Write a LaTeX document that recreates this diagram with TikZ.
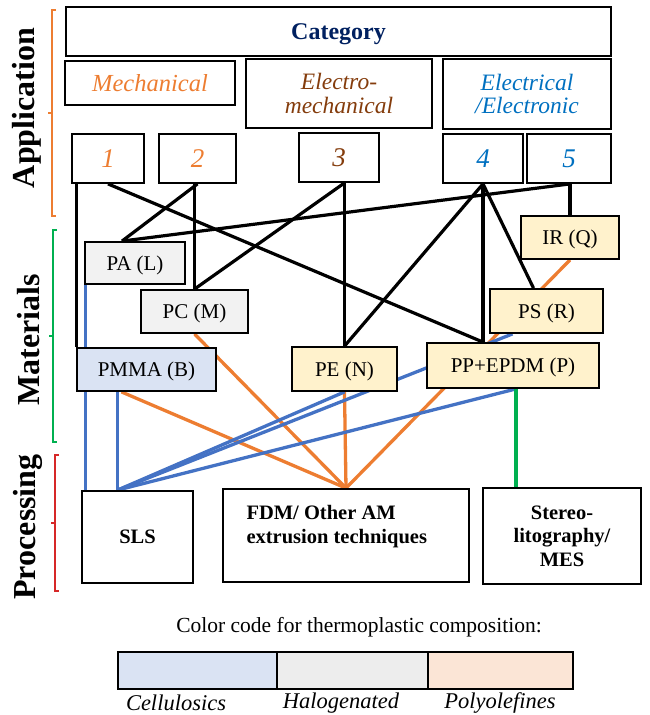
\documentclass[tikz,border=0pt]{standalone}
\usepackage{fontspec}
\setmainfont{Liberation Serif}
\usetikzlibrary{calc}
\pgfdeclarelayer{back}
\pgfsetlayers{back,main}
\definecolor{mechorange}{HTML}{ED7D31}
\definecolor{emechbrown}{HTML}{843C0C}
\definecolor{elecblue}{HTML}{0070C0}
\definecolor{catnavy}{HTML}{002060}
\definecolor{linkblue}{HTML}{4472C4}
\definecolor{linkgreen}{HTML}{00B050}
\definecolor{procred}{HTML}{D62828}
\definecolor{cellfill}{HTML}{DAE3F3}
\definecolor{halofill}{HTML}{F2F2F2}
\definecolor{halolegend}{HTML}{EDEDED}
\definecolor{olefill}{HTML}{FFF2CC}
\definecolor{olelegend}{HTML}{FBE5D6}
\begin{document}
\begin{tikzpicture}[x=1pt,y=-1pt,
  box/.style={draw,line width=1.8pt,inner sep=0pt,align=center,text depth=0pt},
  areatext/.style={font=\fontsize{23.5}{23.5}\selectfont\itshape},
  numtext/.style={font=\fontsize{27}{28}\selectfont\itshape},
  mattext/.style={font=\fontsize{21}{22}\selectfont},
  proctext/.style={font=\fontsize{20.5}{23.5}\selectfont\bfseries},
  sidetext/.style={font=\fontsize{32}{34}\selectfont\bfseries,rotate=90},
  blacklink/.style={line width=3.2pt},
  orangelink/.style={line width=3.3pt,mechorange},
  bluelink/.style={line width=3.3pt,linkblue},
  greenlink/.style={line width=3.3pt,linkgreen}]
\useasboundingbox (0,0) rectangle (650,715);

\node[box,minimum width=545,minimum height=49,font=\fontsize{24}{26}\selectfont\bfseries,text=catnavy] (cat) at (338.5,31.5) {Category};
\node[box,areatext,text=mechorange,minimum width=170,minimum height=44,font=\fontsize{24.5}{25}\selectfont\itshape] (mech) at (150,83) {Mechanical};
\node[box,areatext,text=emechbrown,minimum width=186,minimum height=69] (emech) at (339,93.5) {Electro-\\mechanical};
\node[box,areatext,text=elecblue,minimum width=168,minimum height=70] (elec) at (527,94) {Electrical\\/Electronic};

\node[box,numtext,text=mechorange,minimum width=72,minimum height=49] (n1) at (108,158.5) {1};
\node[box,numtext,text=mechorange,minimum width=77,minimum height=49] (n2) at (197.5,158.5) {2};
\node[box,numtext,text=emechbrown,minimum width=80,minimum height=49] (n3) at (339,157.5) {3};
\node[box,numtext,text=elecblue,minimum width=80,minimum height=49] (n4) at (483,158.5) {4};
\node[box,numtext,text=elecblue,minimum width=84,minimum height=49] (n5) at (569,158.5) {5};

\node[box,mattext,fill=halofill,minimum width=100,minimum height=42] (pa) at (135,263) {PA (L)};
\node[box,mattext,fill=halofill,minimum width=107,minimum height=43] (pc) at (194.5,311.5) {PC (M)};
\node[box,mattext,fill=cellfill,minimum width=139,minimum height=43] (pmma) at (146.5,369.5) {PMMA (B)};
\node[box,mattext,fill=olefill,minimum width=105,minimum height=44] (pe) at (344.5,369) {PE (N)};
\node[box,mattext,fill=olefill,minimum width=172,minimum height=45] (pp) at (513,365.5) {PP+EPDM (P)};
\node[box,mattext,fill=olefill,minimum width=98,minimum height=43] (ir) at (570,237.5) {IR (Q)};
\node[box,mattext,fill=olefill,minimum width=113,minimum height=44] (ps) at (546.5,311) {PS (R)};

\node[box,proctext,minimum width=111,minimum height=92] (sls) at (137.5,537) {SLS};
\node[box,minimum width=246,minimum height=93] (fdm) at (346,535.5) {};
\node[proctext,align=left,anchor=west] (fdmtext) at (243,526.5) {FDM/ Other AM\\extrusion techniques};
\node[box,proctext,minimum width=158,minimum height=96] (st) at (562,536) {Stereo-\\litography/\\MES};

\node[sidetext] (apptext) at (27,108) {Application};
\node[sidetext] (mattitle) at (29,340) {Materials};
\node[sidetext] (proctitle) at (28,527) {Processing};

\draw[mechorange,line width=1.2pt] (56,10) -- (52,10) -- (52,216) -- (56,216) (52,113) -- (48,113);
\draw[linkgreen,line width=1.2pt] (57,230) -- (53,230) -- (53,442) -- (57,442) (53,336) -- (49,336);
\draw[procred,line width=1.2pt] (59,455) -- (55,455) -- (55,591) -- (59,591) (55,523) -- (51,523);

\coordinate (slsin) at ($(sls.north)+(-20,0)$);
\coordinate (pafoot) at ($(pa.south west)+(1.5,0)$);
\coordinate (pptop) at (n4.south |- pp.north);
\coordinate (pafrom) at ($(pa.north)+(-13,0)$);
\coordinate (psbot) at ($(ps.south)+(-34,0)$);
\coordinate (ppbot) at ($(pp.south)+(3,0)$);

\begin{pgfonlayer}{back}
\draw[blacklink] (pmma.north west) -- (pmma.north west |- n1.south);
\draw[blacklink] (n1.south) -- (pptop);
\draw[blacklink] (n2.south) -- (pafrom);
\draw[blacklink] (pc.north |- n2.south) -- (pc.north);
\draw[blacklink] (pe.north |- n3.south) -- (pe.north);
\draw[blacklink] (pe.north |- n3.south) -- (pc.north);
\draw[blacklink] (n4.south) -- (pe.north);
\draw[blacklink] (n4.south) -- (pptop);
\draw[blacklink] (n4.south) -- ($(ps.north)+(-13,0)$);
\draw[blacklink] (ir.north |- n5.south) -- (ir.north);
\draw[blacklink] (ir.north |- n5.south) -- (pafrom);

\draw[orangelink] (pc.south) -- (fdm.north);
\draw[orangelink] ($(pmma.south)+(-25,0)$) -- (fdm.north);
\draw[orangelink] (pe.south) -- (fdm.north);
\draw[orangelink] (ir.south) -- (fdm.north);

\draw[bluelink] (pafoot) -- (pafoot |- sls.north);
\draw[bluelink] (slsin |- pmma.south) -- (slsin);
\draw[bluelink] (pe.south) -- (slsin);
\draw[bluelink] (psbot) -- (slsin);
\draw[bluelink] (ppbot) -- (slsin);

\draw[greenlink] (ppbot) -- (ppbot |- st.north);
\end{pgfonlayer}

\node[font=\fontsize{21.5}{23}\selectfont] (legtitle) at (359,627.5) {Color code for thermoplastic composition:};
\node[box,fill=cellfill,minimum width=159,minimum height=37] (cell) at (197.5,670.5) {};
\node[box,fill=halolegend,minimum width=151,minimum height=37] (halo) at (352.5,670.5) {};
\node[box,fill=olelegend,minimum width=145,minimum height=37] (ole) at (500.5,670.5) {};
\node[font=\fontsize{22.5}{24}\selectfont\itshape] (celltext) at (176,703) {Cellulosics};
\node[font=\fontsize{22.5}{24}\selectfont\itshape] (halotext) at (341,703) {Halogenated};
\node[font=\fontsize{22.5}{24}\selectfont\itshape] (oletext) at (500,703) {Polyolefines};
\end{tikzpicture}
\end{document}
